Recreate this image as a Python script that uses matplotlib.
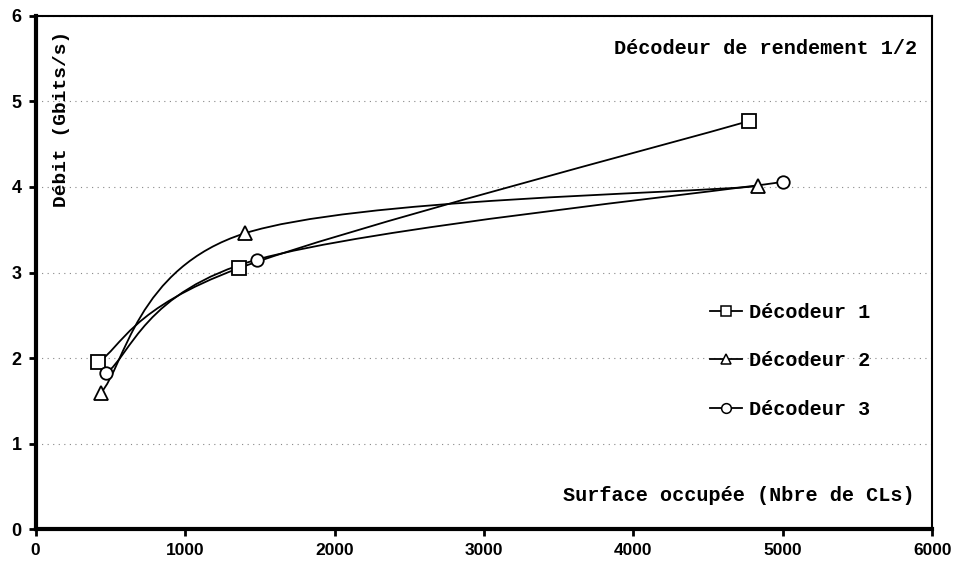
import matplotlib
matplotlib.use("Agg")
import matplotlib.pyplot as plt
import numpy as np
from matplotlib.path import Path
from matplotlib.patches import PathPatch

# surface (CLs) / debit (Gbits/s) for each decoder
surface_dec1 = [420, 1360, 4770]
debit_dec1 = [1.95, 3.05, 4.77]

surface_dec2 = [436, 1403, 4833]
debit_dec2 = [1.59, 3.46, 4.01]

surface_dec3 = [472, 1480, 5000]
debit_dec3 = [1.82, 3.15, 4.06]

labels = ["Décodeur 1", "Décodeur 2", "Décodeur 3"]
markers = ["s", "^", "o"]
x_ticks = [0, 1000, 2000, 3000, 4000, 5000, 6000]
y_ticks = [0, 1, 2, 3, 4, 5, 6]

MONO = "Liberation Mono"
SANS = "Liberation Sans"


def smooth_path(xs, ys):
    """Cubic Bezier path through the points (Catmull-Rom style control points)."""
    pts = np.column_stack([xs, ys]).astype(float)
    n = len(pts)
    verts = [pts[0]]
    codes = [Path.MOVETO]
    for i in range(n - 1):
        p0 = pts[i - 1] if i > 0 else pts[i]
        p1 = pts[i]
        p2 = pts[i + 1]
        p3 = pts[i + 2] if i + 2 < n else pts[i + 1]
        c1 = p1 + (p2 - p0) / 6.0
        c2 = p2 - (p3 - p1) / 6.0
        verts += [c1, c2, p2]
        codes += [Path.CURVE4] * 3
    return Path(verts, codes)


fig = plt.figure(figsize=(9.55, 5.67), dpi=100)
ax = fig.add_axes([0.0372, 0.067, 0.9392, 0.9048])

series = [(surface_dec1, debit_dec1), (surface_dec2, debit_dec2), (surface_dec3, debit_dec3)]
handles = []
for (xs, ys), lab, mk in zip(series, labels, markers):
    ax.add_patch(PathPatch(smooth_path(xs, ys), facecolor="none", edgecolor="black",
                           lw=1.3, zorder=3))
    ax.plot(xs, ys, linestyle="none", marker=mk, markersize=10 if mk != "o" else 9,
            markerfacecolor="white", markeredgecolor="black", markeredgewidth=1.3,
            zorder=4)
    # legend handle: short line with the marker
    lh, = ax.plot([], [], color="black", lw=1.3, marker=mk, markersize=7,
                  markerfacecolor="white", markeredgecolor="black", markeredgewidth=1.1,
                  label=lab)
    handles.append(lh)

ax.set_xlim(0, 6000)
ax.set_ylim(0, 6)
ax.set_xticks(x_ticks)
ax.set_yticks(y_ticks)
ax.set_xticklabels([str(v) for v in x_ticks], fontfamily=SANS, fontweight="bold", fontsize=12.5)
ax.set_yticklabels([str(v) for v in y_ticks], fontfamily=SANS, fontweight="bold", fontsize=13)
ax.tick_params(direction="out", length=5, width=2, pad=5, color="black")

ax.grid(axis="y", linestyle=(0, (1, 4)), color="#888888", linewidth=0.8)
ax.set_axisbelow(True)

ax.spines["left"].set_linewidth(3)
ax.spines["bottom"].set_linewidth(3)
ax.spines["top"].set_linewidth(1.5)
ax.spines["right"].set_linewidth(1.5)

ax.text(0.983, 0.9376, "Décodeur de rendement 1/2", transform=ax.transAxes,
        ha="right", va="center", fontfamily=MONO, fontweight="bold", fontsize=14.5)
ax.text(0.980, 0.066, "Surface occupée (Nbre de CLs)", transform=ax.transAxes,
        ha="right", va="center", fontfamily=MONO, fontweight="bold", fontsize=14.5)
ax.text(0.0295, 0.80, "Débit (Gbits/s)", transform=ax.transAxes, rotation=90,
        ha="center", va="center", fontfamily=MONO, fontweight="bold", fontsize=14)

ax.legend(handles=handles, loc="upper left", bbox_to_anchor=(0.752, 0.44),
          frameon=False, borderaxespad=0, borderpad=0, handlelength=1.6,
          handletextpad=0.35, labelspacing=1.45,
          prop={"family": MONO, "weight": "bold", "size": 14.5})

fig.savefig("out.png", dpi=100)
